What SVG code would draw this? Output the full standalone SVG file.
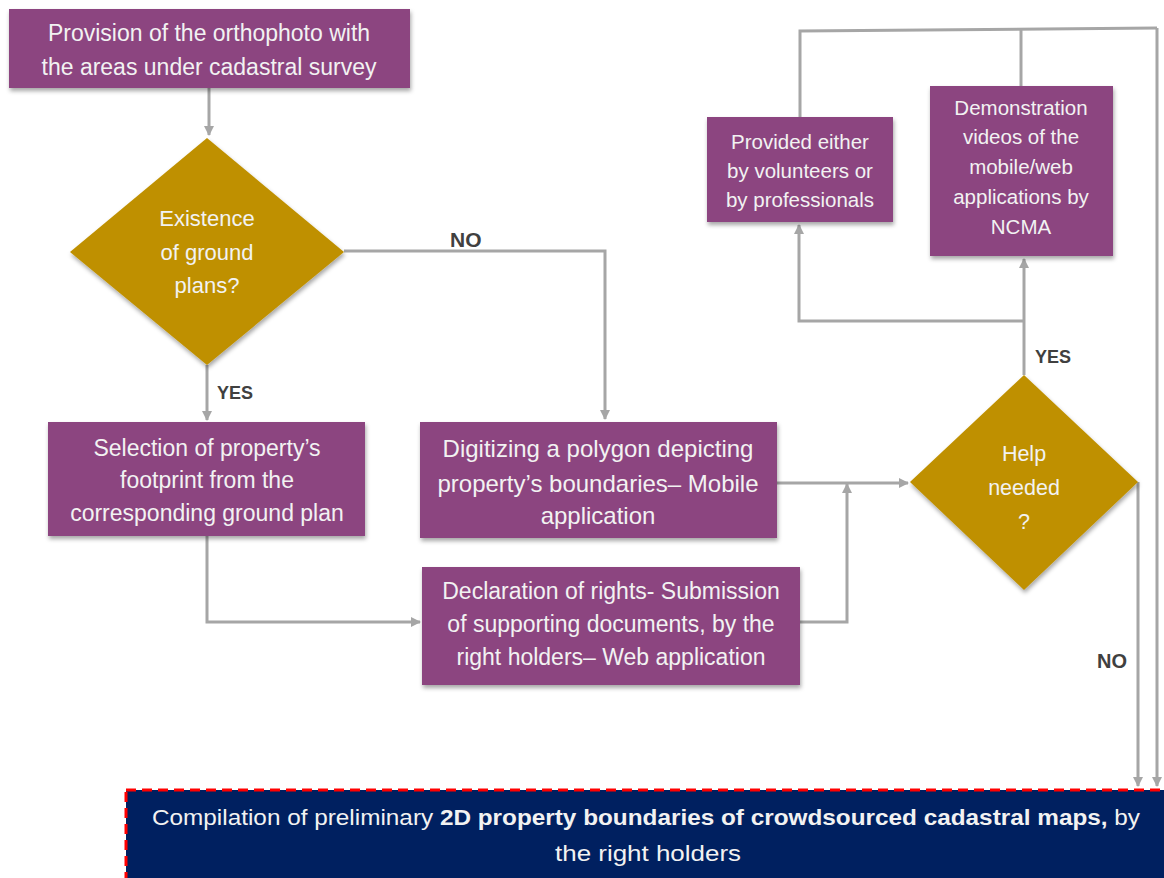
<svg xmlns="http://www.w3.org/2000/svg" width="1164" height="878" viewBox="0 0 1164 878">
<defs>
<filter id="sh" x="-10%" y="-10%" width="120%" height="130%">
<feDropShadow dx="1" dy="3" stdDeviation="2" flood-color="#000" flood-opacity="0.35"/>
</filter>
<marker id="ah" markerWidth="10" markerHeight="10" refX="9" refY="5" orient="auto" markerUnits="userSpaceOnUse" viewBox="0 0 10 10">
<path d="M0,0 L10,5 L0,10 Z" fill="#A6A6A6"/>
</marker>
<style>
.box{fill:#8C4480;filter:url(#sh)}
.dia{fill:#BF9000;filter:url(#sh)}
.t{font-family:"Liberation Sans",Arial,sans-serif;fill:#F2F2F2;text-anchor:middle}
.lbl{font-family:"Liberation Sans",Arial,sans-serif;font-weight:bold;fill:#404040}
.c{fill:none;stroke:#A6A6A6;stroke-width:3}
.ca{fill:none;stroke:#A6A6A6;stroke-width:3;marker-end:url(#ah)}
</style>
</defs>
<rect width="1164" height="878" fill="#fff"/>

<g id="connectors">
<path class="ca" d="M209,88 V135"/>
<path class="ca" d="M207,365 V420"/>
<path class="ca" d="M344,251 H605 V419"/>
<path class="ca" d="M207,536 V622 H420"/>
<path class="ca" d="M800,622 H847 V484"/>
<path class="ca" d="M777,483 H908"/>
<path class="ca" d="M1024,375 V259"/>
<path class="ca" d="M1024,321 H799 V225"/>
<path class="c" d="M800,117 V31 L1157,28"/>
<path class="c" d="M1021,86 V30"/>
<path class="ca" d="M1157,28 V786"/>
<path class="ca" d="M1138,482 V786"/>
<text class="lbl" x="450" y="247" font-size="21">NO</text>
<text class="lbl" x="217" y="399" font-size="18">YES</text>
<text class="lbl" x="1035" y="363" font-size="18">YES</text>
<text class="lbl" x="1097" y="668" font-size="20">NO</text>
</g>

<g id="n-provision">
<rect class="box" x="9" y="9" width="401" height="79"/>
<text class="t" font-size="23" x="209" y="41">Provision of the orthophoto with</text>
<text class="t" font-size="23" x="209" y="75">the areas under cadastral survey</text>
</g>

<g id="n-existence">
<polygon class="dia" points="207,138 344,252 207,365 70,252"/>
<text class="t" font-size="22" x="207" y="226">Existence</text>
<text class="t" font-size="22" x="207" y="260">of ground</text>
<text class="t" font-size="22" x="207" y="293">plans?</text>
</g>

<g id="n-selection">
<rect class="box" x="48" y="422" width="317" height="114"/>
<text class="t" font-size="23" x="207" y="456">Selection of property’s</text>
<text class="t" font-size="23" x="207" y="488">footprint from the</text>
<text class="t" font-size="23" x="207" y="521">corresponding ground plan</text>
</g>

<g id="n-digitizing">
<rect class="box" x="420" y="422" width="357" height="116"/>
<text class="t" font-size="24" x="598" y="457">Digitizing a polygon depicting</text>
<text class="t" font-size="24" x="598" y="492">property’s boundaries– Mobile</text>
<text class="t" font-size="24" x="598" y="524">application</text>
</g>

<g id="n-declaration">
<rect class="box" x="422" y="567" width="378" height="118"/>
<text class="t" font-size="23" x="611" y="599">Declaration of rights- Submission</text>
<text class="t" font-size="23" x="611" y="632">of supporting documents, by the</text>
<text class="t" font-size="23" x="611" y="665">right holders– Web application</text>
</g>

<g id="n-help">
<polygon class="dia" points="1024,375 1138,482 1024,590 910,482"/>
<text class="t" font-size="21.5" x="1024" y="461">Help</text>
<text class="t" font-size="21.5" x="1024" y="495">needed</text>
<text class="t" font-size="21.5" x="1024" y="529">?</text>
</g>

<g id="n-provided">
<rect class="box" x="707" y="117" width="186" height="105"/>
<text class="t" font-size="20.5" x="800" y="149">Provided either</text>
<text class="t" font-size="20.5" x="800" y="178">by volunteers or</text>
<text class="t" font-size="20.5" x="800" y="207">by professionals</text>
</g>

<g id="n-demo">
<rect class="box" x="930" y="86" width="183" height="170"/>
<text class="t" font-size="20.5" x="1021" y="115">Demonstration</text>
<text class="t" font-size="20.5" x="1021" y="144">videos of the</text>
<text class="t" font-size="20.5" x="1021" y="174">mobile/web</text>
<text class="t" font-size="20.5" x="1021" y="204">applications by</text>
<text class="t" font-size="20.5" x="1021" y="234">NCMA</text>
</g>

<g id="n-compilation">
<rect x="126" y="790" width="1050" height="100" fill="#002060" stroke="#FF0000" stroke-width="3" stroke-dasharray="10,6"/>
<text class="t" font-size="22" x="646" y="825" textLength="988" lengthAdjust="spacingAndGlyphs">Compilation of preliminary <tspan font-weight="bold">2D property boundaries of crowdsourced cadastral maps,</tspan> by</text>
<text class="t" font-size="22" x="648" y="861" textLength="186" lengthAdjust="spacingAndGlyphs">the right holders</text>
</g>
</svg>
